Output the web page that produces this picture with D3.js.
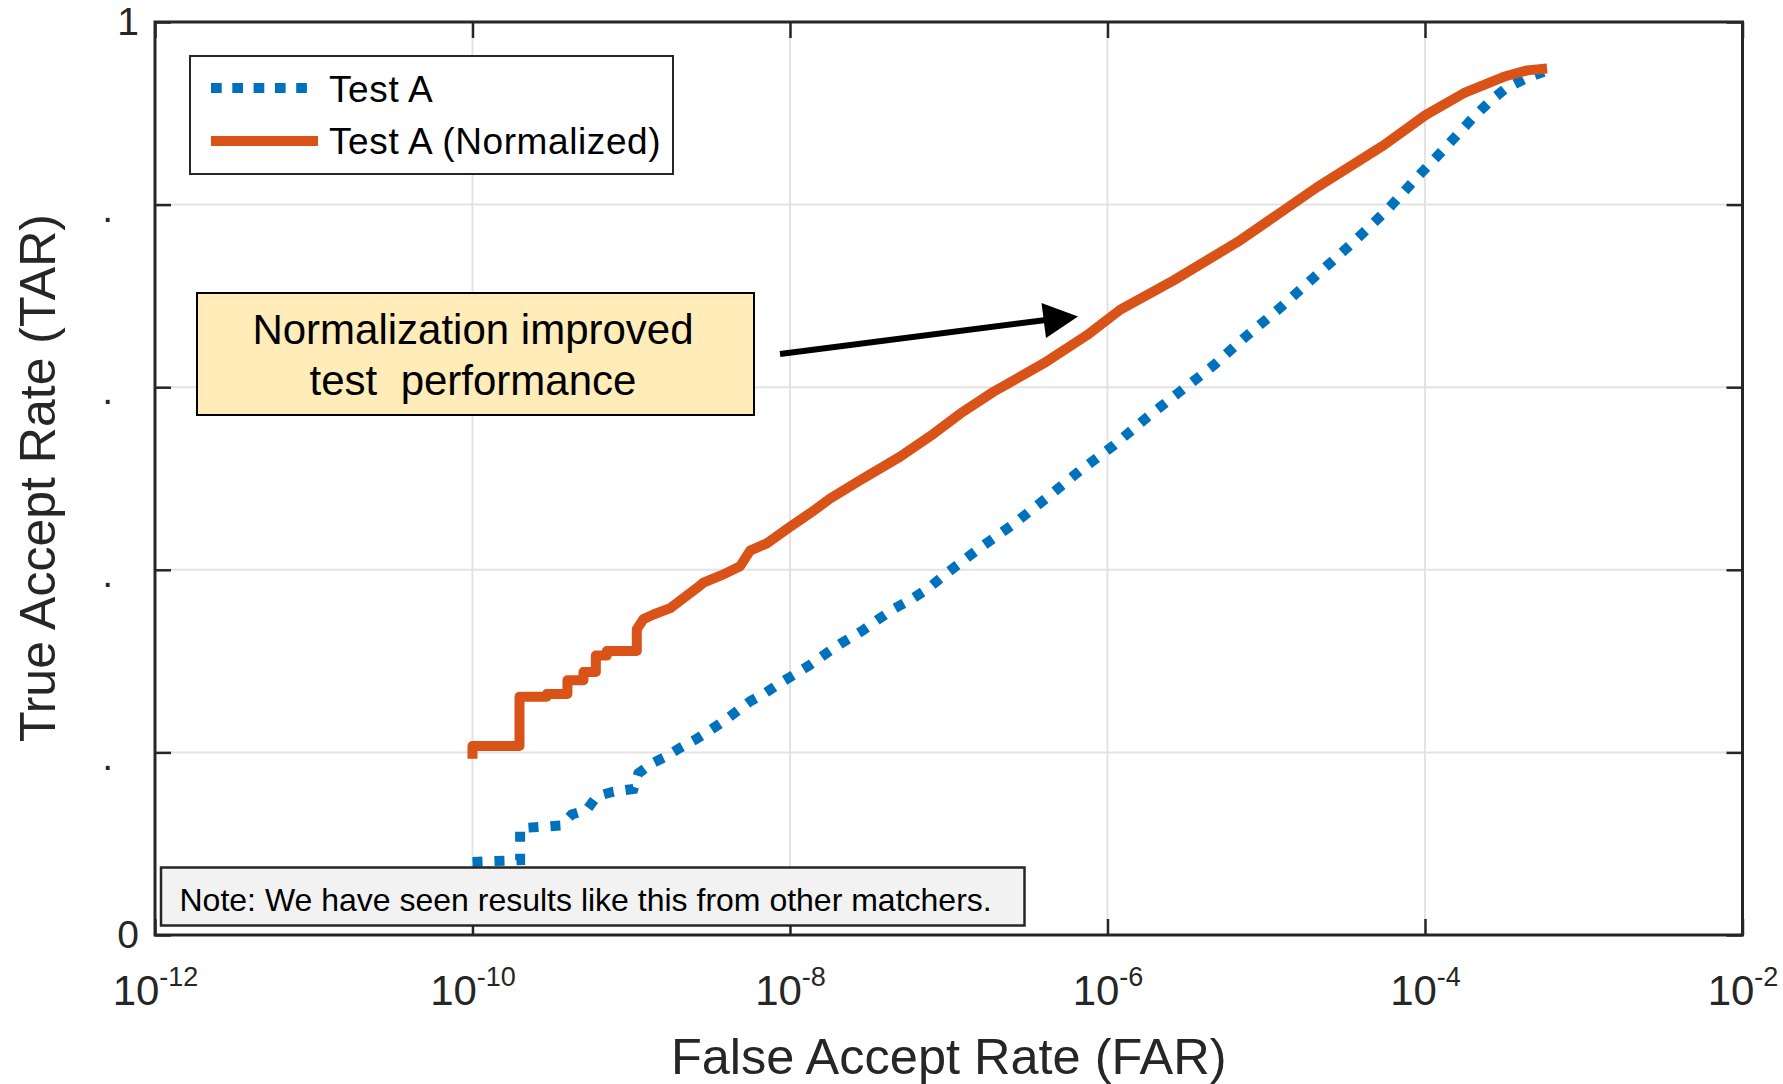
<!DOCTYPE html>
<html>
<head>
<meta charset="utf-8">
<script src="https://cdn.jsdelivr.net/npm/d3@7"></script>
<style>
  body { margin: 0; background: #fff; }
  text { font-family: "Liberation Sans", Arial, sans-serif; }
</style>
</head>
<body>
<svg width="1783" height="1084"></svg>
<script>
//************************* DATA ***************************//

// log10(FAR) and TAR
var farLogA = [-10.0, -9.70, -9.70, -9.442, -9.374, -9.28, -9.217, -9.112, -8.986, -8.955,
  -8.87, -8.786, -8.692, -8.597, -8.514, -8.419, -8.335, -8.251, -8.156, -8.062,
  -7.957, -7.873, -7.767, -7.673, -7.547, -7.442, -7.348, -7.232, -7.127, -7.022,
  -6.812, -6.592, -6.381, -6.171, -5.962, -5.751, -5.552, -5.331, -5.132, -4.932,
  -4.733, -4.533, -4.432, -4.239, -4.054, -3.871, -3.693, -3.592, -3.493, -3.367, -3.252];
var tarA = [0.080, 0.082, 0.117, 0.120, 0.132, 0.137, 0.152, 0.157, 0.160, 0.177,
  0.188, 0.195, 0.205, 0.214, 0.223, 0.234, 0.245, 0.256, 0.265, 0.276,
  0.287, 0.296, 0.309, 0.320, 0.333, 0.346, 0.357, 0.368, 0.380, 0.395,
  0.423, 0.450, 0.479, 0.509, 0.536, 0.567, 0.594, 0.624, 0.655, 0.684,
  0.715, 0.746, 0.762, 0.794, 0.829, 0.8625, 0.896, 0.913, 0.927, 0.938, 0.9455];

var farLogNorm = [-10.0, -10.0, -9.704, -9.704, -9.532, -9.532, -9.402, -9.402, -9.301, -9.301,
  -9.223, -9.223, -9.154, -9.154, -8.965, -8.965, -8.923, -8.86, -8.755, -8.587,
  -8.545, -8.419, -8.314, -8.251, -8.146, -8.0, -7.873, -7.747, -7.558, -7.306,
  -7.096, -6.928, -6.718, -6.403, -6.129, -5.919, -5.583, -5.163, -4.68, -4.26,
  -3.997, -3.756, -3.504, -3.357, -3.231];
var tarNorm = [0.193, 0.207, 0.207, 0.261, 0.261, 0.264, 0.264, 0.279, 0.279, 0.288,
  0.288, 0.306, 0.306, 0.311, 0.311, 0.335, 0.346, 0.351, 0.358, 0.380,
  0.386, 0.395, 0.404, 0.421, 0.429, 0.447, 0.462, 0.478, 0.498, 0.524,
  0.549, 0.571, 0.595, 0.626, 0.657, 0.685, 0.717, 0.761, 0.819, 0.865,
  0.898, 0.922, 0.940, 0.947, 0.949];

var xTickExp = [-12, -10, -8, -6, -4, -2];
var yTicks = [0, 0.2, 0.4, 0.6, 0.8, 1];
var yTickLabels = ["0", ".", ".", ".", ".", "1"];

var seriesNames = ["Test A", "Test A (Normalized)"];
var noteText = "Note: We have seen results like this from other matchers.";
var calloutLines = ["Normalization improved", "test  performance"];

//************************* CHART ***************************//

var svg = d3.select("svg");
var plotL = 155, plotR = 1742.5, plotT = 22, plotB = 935;
var axisColor = "#262626";
var blue = "#0072BD", orange = "#D95319";

var x = d3.scaleLog().domain([1e-12, 1e-2]).range([plotL, plotR]);
var y = d3.scaleLinear().domain([0, 1]).range([plotB, plotT]);
var xTicks = xTickExp.map(function (e) { return Math.pow(10, e); });

// grid
var grid = svg.append("g");
grid.selectAll(".gx").data(xTicks.slice(1, -1)).enter().append("line")
    .attr("x1", function (d) { return x(d); }).attr("x2", function (d) { return x(d); })
    .attr("y1", plotT).attr("y2", plotB)
    .attr("stroke", "#e3e3e3").attr("stroke-width", 2);
grid.selectAll(".gy").data(yTicks.slice(1, -1)).enter().append("line")
    .attr("y1", function (d) { return y(d); }).attr("y2", function (d) { return y(d); })
    .attr("x1", plotL).attr("x2", plotR)
    .attr("stroke", "#e3e3e3").attr("stroke-width", 2);

// curves
var line = d3.line()
    .x(function (d) { return x(Math.pow(10, d[0])); })
    .y(function (d) { return y(d[1]); });

svg.append("path")
    .datum(d3.zip(farLogA, tarA))
    .attr("d", line)
    .attr("fill", "none")
    .attr("stroke", blue)
    .attr("stroke-width", 10)
    .attr("stroke-dasharray", "10,12");

svg.append("path")
    .datum(d3.zip(farLogNorm, tarNorm))
    .attr("d", line)
    .attr("fill", "none")
    .attr("stroke", orange)
    .attr("stroke-width", 10)
    .attr("stroke-linejoin", "round");

// axes (ticks on all four sides, pointing inward)
var gx = svg.append("g").attr("transform", "translate(0," + plotB + ")")
    .call(d3.axisBottom(x).tickValues(xTicks).tickSizeInner(-16).tickSizeOuter(0).tickFormat(""));
gx.selectAll(".tick text").each(function (d, i) {
  var t = d3.select(this).attr("dy", null).attr("y", 70)
      .attr("font-size", 42).attr("fill", axisColor).attr("text-anchor", "middle");
  t.append("tspan").text("10");
  t.append("tspan").attr("dy", -19).attr("font-size", 27).text(xTickExp[i]);
});

svg.append("g").attr("transform", "translate(0," + plotT + ")")
    .call(d3.axisTop(x).tickValues(xTicks).tickSizeInner(-16).tickSizeOuter(0).tickFormat(""));

var gy = svg.append("g").attr("transform", "translate(" + plotL + ",0)")
    .call(d3.axisLeft(y).tickValues(yTicks).tickSizeInner(-16).tickSizeOuter(0).tickPadding(16)
      .tickFormat(function (d, i) { return yTickLabels[i]; }));
gy.selectAll(".tick text")
    .attr("font-size", 39).attr("fill", axisColor)
    .attr("dx", function (d, i) { return yTickLabels[i] === "." ? -26 : 0; })
    .attr("dy", function (d, i) { return yTickLabels[i] === "." ? "0.43em" : "0.32em"; });

svg.append("g").attr("transform", "translate(" + plotR + ",0)")
    .call(d3.axisRight(y).tickValues(yTicks).tickSizeInner(-16).tickSizeOuter(0).tickFormat(""));

svg.selectAll(".domain").remove();
svg.selectAll(".tick line").attr("stroke", axisColor).attr("stroke-width", 2.5);

svg.append("rect")
    .attr("x", plotL).attr("y", plotT)
    .attr("width", plotR - plotL).attr("height", plotB - plotT)
    .attr("fill", "none").attr("stroke", axisColor).attr("stroke-width", 3);

// axis labels
svg.append("text")
    .attr("x", (plotL + plotR) / 2).attr("y", 1074)
    .attr("text-anchor", "middle").attr("font-size", 50.5).attr("fill", axisColor)
    .text("False Accept Rate (FAR)");
svg.append("text")
    .attr("transform", "translate(55,478) rotate(-90)")
    .attr("text-anchor", "middle").attr("font-size", 50).attr("fill", axisColor)
    .text("True Accept Rate (TAR)");

// legend
var legend = svg.append("g");
legend.append("rect")
    .attr("x", 190).attr("y", 56).attr("width", 483).attr("height", 118)
    .attr("fill", "#fff").attr("stroke", axisColor).attr("stroke-width", 2);
legend.append("line")
    .attr("x1", 211).attr("x2", 307).attr("y1", 88).attr("y2", 88)
    .attr("stroke", blue).attr("stroke-width", 10).attr("stroke-dasharray", "10.7,10.6");
legend.append("line")
    .attr("x1", 211).attr("x2", 318).attr("y1", 141).attr("y2", 141)
    .attr("stroke", orange).attr("stroke-width", 10);
legend.selectAll(".lt").data(seriesNames).enter().append("text")
    .attr("x", 329).attr("y", function (d, i) { return 102 + i * 52; })
    .attr("font-size", 37).attr("letter-spacing", 0.6).attr("fill", "#000")
    .text(function (d) { return d; });

// callout box and arrow
svg.append("rect")
    .attr("x", 197).attr("y", 293).attr("width", 557).attr("height", 122)
    .attr("fill", "#FFECB9").attr("stroke", "#000").attr("stroke-width", 2);
svg.selectAll(".cl").data(calloutLines).enter().append("text")
    .attr("x", 473).attr("y", function (d, i) { return 344 + i * 51; })
    .attr("text-anchor", "middle").attr("font-size", 42).attr("fill", "#000")
    .style("white-space", "pre")
    .text(function (d) { return d; });

svg.append("line")
    .attr("x1", 780).attr("y1", 354).attr("x2", 1046).attr("y2", 320)
    .attr("stroke", "#000").attr("stroke-width", 6);
svg.append("polygon")
    .attr("points", "1078,316.5 1041.5,303 1046,338")
    .attr("fill", "#000");

// note box
svg.append("rect")
    .attr("x", 161).attr("y", 867.5).attr("width", 863.5).attr("height", 58)
    .attr("fill", "#f2f2f2").attr("stroke", axisColor).attr("stroke-width", 2.5);
svg.append("text")
    .attr("x", 179.5).attr("y", 910.5)
    .attr("font-size", 32).attr("fill", "#000")
    .text(noteText);
</script>
</body>
</html>
